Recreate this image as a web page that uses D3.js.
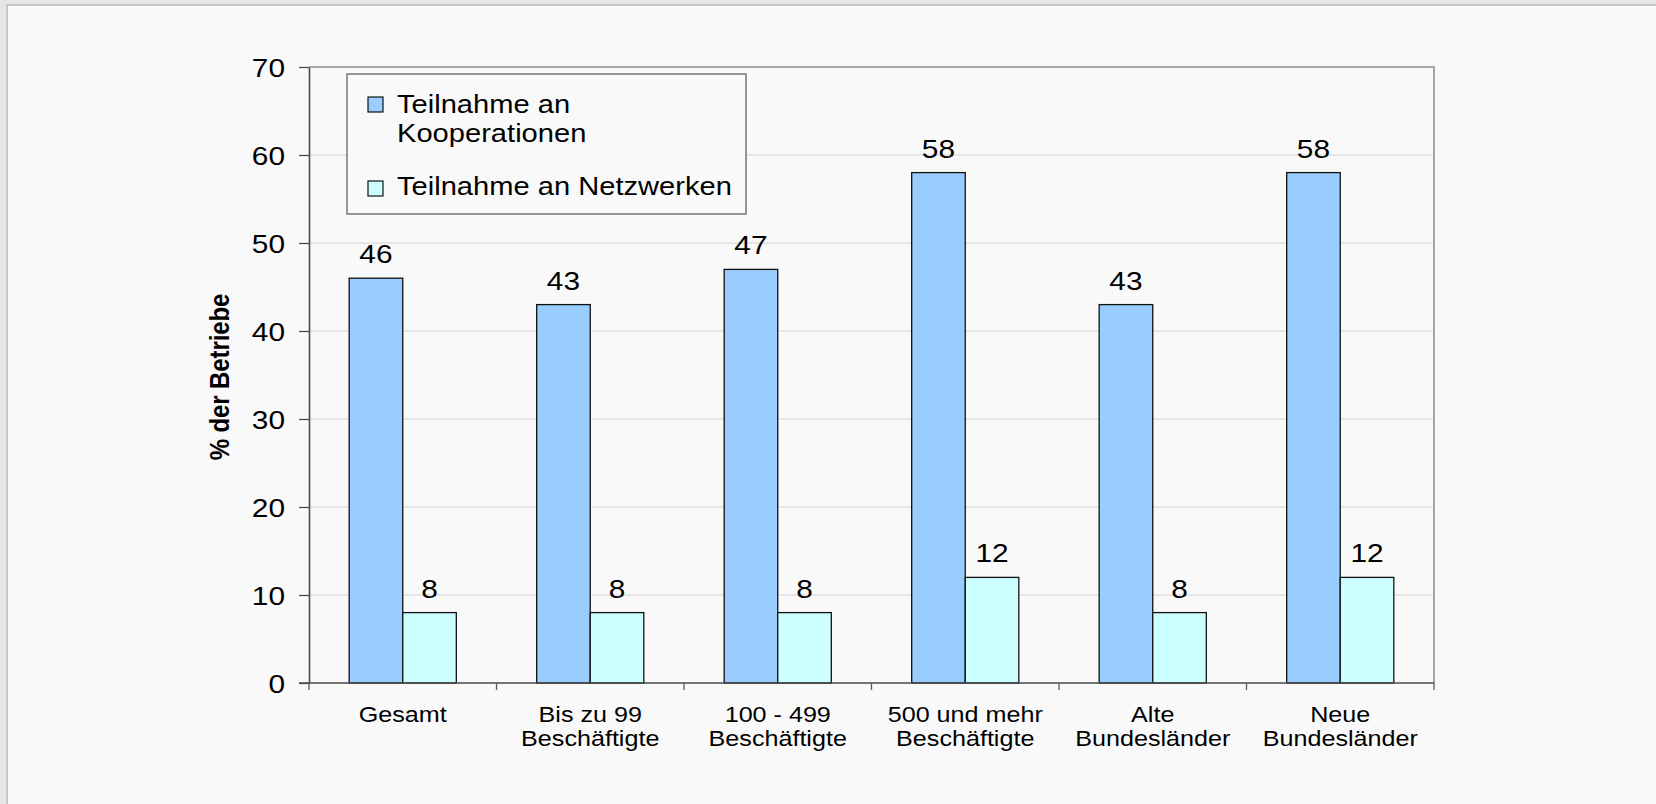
<!DOCTYPE html>
<html>
<head>
<meta charset="utf-8">
<script src="https://cdn.jsdelivr.net/npm/d3@7"></script>
<style>
  html, body { margin: 0; padding: 0; background: #e6e6e6; }
  svg { display: block; font-family: "Liberation Sans", Arial, sans-serif; }
</style>
</head>
<body>
<svg width="1656" height="804"></svg>
<script>
// chart data
const categories = [
  ["Gesamt"],
  ["Bis zu 99", "Beschäftigte"],
  ["100 - 499", "Beschäftigte"],
  ["500 und mehr", "Beschäftigte"],
  ["Alte", "Bundesländer"],
  ["Neue", "Bundesländer"]
];
const seriesNames = ["Teilnahme an Kooperationen", "Teilnahme an Netzwerken"];
const kooperationen = [46, 43, 47, 58, 43, 58];
const netzwerke = [8, 8, 8, 12, 8, 12];
const yTicks = [0, 10, 20, 30, 40, 50, 60, 70];
const colors = ["#99ccff", "#ccffff"];

const SX = 1.17; // the reference text is slightly wider than tall

const svg = d3.select("svg");

// panel background
svg.append("rect")
  .attr("x", 7).attr("y", 5)
  .attr("width", 1700).attr("height", 850)
  .attr("fill", "#f9f9f9")
  .attr("stroke", "#c6c6c6").attr("stroke-width", 2);

const plotLeft = 309, plotTop = 67, plotRight = 1434, plotBottom = 683;
const keys = categories.map((c) => c.join(" "));

const x0 = d3.scaleBand().domain(keys).range([plotLeft, plotRight]);
const bw = x0.bandwidth();
// Excel gap width 150% -> bars take 2/3.5 of band
const x1 = d3.scaleBand().domain([0, 1])
  .range([bw * 0.75 / 3.5, bw * 2.75 / 3.5]);
const y = d3.scaleLinear().domain([0, 70]).range([plotBottom, plotTop]);

// gridlines
svg.append("g").selectAll("line")
  .data(yTicks.filter((t) => t > 0 && t < 70))
  .enter().append("line")
  .attr("x1", plotLeft).attr("x2", plotRight)
  .attr("y1", (d) => y(d)).attr("y2", (d) => y(d))
  .attr("stroke", "#d4d4d4").attr("stroke-width", 1.2);

// plot border top/right
svg.append("path")
  .attr("d", `M${plotLeft},${y(70)}H${plotRight}V${plotBottom}`)
  .attr("fill", "none").attr("stroke", "#8c8c8c").attr("stroke-width", 1.5);

// bars
const rows = keys.map((k, i) => ({ key: k, vals: [kooperationen[i], netzwerke[i]] }));
const groups = svg.append("g").selectAll("g")
  .data(rows).enter().append("g")
  .attr("transform", (d) => `translate(${x0(d.key)},0)`);

groups.selectAll("rect")
  .data((d) => d.vals.map((v, j) => ({ v, j })))
  .enter().append("rect")
  .attr("x", (d) => x1(d.j))
  .attr("y", (d) => y(d.v))
  .attr("width", x1.bandwidth())
  .attr("height", (d) => y(0) - y(d.v))
  .attr("fill", (d) => colors[d.j])
  .attr("stroke", "#111").attr("stroke-width", 1.3);

groups.selectAll("text.val")
  .data((d) => d.vals.map((v, j) => ({ v, j })))
  .enter().append("text")
  .attr("class", "val")
  .attr("transform", (d) => `translate(${x1(d.j) + x1.bandwidth() / 2},${y(d.v) - 15}) scale(${SX},1)`)
  .attr("text-anchor", "middle")
  .attr("font-size", 25.5)
  .attr("fill", "#000")
  .text((d) => d.v);

// y axis
const yAxis = svg.append("g")
  .attr("transform", `translate(${plotLeft},0)`)
  .call(d3.axisLeft(y).tickValues(yTicks).tickSize(10).tickSizeOuter(0));
yAxis.select(".domain").attr("stroke", "#4a4a4a").attr("stroke-width", 1.6);
yAxis.selectAll(".tick line").attr("stroke", "#4a4a4a").attr("stroke-width", 1.3);
yAxis.selectAll(".tick text")
  .attr("x", null).attr("dy", null)
  .attr("transform", `translate(-24,9.3) scale(${SX},1)`)
  .attr("font-family", "Liberation Sans, Arial, sans-serif")
  .attr("font-size", 25.5)
  .attr("fill", "#000");

// x axis line + boundary ticks
svg.append("line")
  .attr("x1", plotLeft - 10).attr("x2", plotRight)
  .attr("y1", plotBottom).attr("y2", plotBottom)
  .attr("stroke", "#4a4a4a").attr("stroke-width", 1.6);
svg.append("g").selectAll("line")
  .data(keys.map((k) => x0(k)).concat([plotRight]))
  .enter().append("line")
  .attr("x1", (d) => d).attr("x2", (d) => d)
  .attr("y1", plotBottom).attr("y2", plotBottom + 7)
  .attr("stroke", "#5a5a5a").attr("stroke-width", 1.3);

// category labels
const catText = svg.append("g").selectAll("text")
  .data(categories).enter().append("text")
  .attr("transform", (d, i) => `translate(${x0(keys[i]) + bw / 2},722) scale(${SX},1)`)
  .attr("text-anchor", "middle")
  .attr("font-size", 21.5)
  .attr("fill", "#000");
catText.selectAll("tspan")
  .data((d) => d).enter().append("tspan")
  .attr("x", 0)
  .attr("y", (d, i) => i * 24.5)
  .text((d) => d);

// y title
svg.append("text")
  .attr("transform", `translate(229,377) scale(${SX},1) rotate(-90)`)
  .attr("text-anchor", "middle")
  .attr("font-size", 24)
  .attr("font-weight", "bold")
  .attr("letter-spacing", -0.1)
  .text("% der Betriebe");

// legend
const legend = svg.append("g");
legend.append("rect")
  .attr("x", 347).attr("y", 74)
  .attr("width", 399).attr("height", 140)
  .attr("fill", "#f9f9f9")
  .attr("stroke", "#8c8c8c").attr("stroke-width", 1.8);

const legendItems = [
  { lines: ["Teilnahme an", "Kooperationen"], box: 97, base: 113 },
  { lines: ["Teilnahme an Netzwerken"], box: 181, base: 195 }
];
legendItems.forEach((item, i) => {
  legend.append("rect")
    .attr("x", 368).attr("y", item.box)
    .attr("width", 15).attr("height", 15)
    .attr("fill", colors[i])
    .attr("stroke", "#111").attr("stroke-width", 1.2);
  const t = legend.append("text")
    .attr("transform", `translate(397,${item.base}) scale(${SX - 0.05},1)`)
    .attr("font-size", 26)
    .attr("fill", "#000")
    .attr("aria-label", seriesNames[i]);
  item.lines.forEach((ln, k) => {
    t.append("tspan").attr("x", 0).attr("y", k * 29).text(ln);
  });
});
</script>
</body>
</html>
